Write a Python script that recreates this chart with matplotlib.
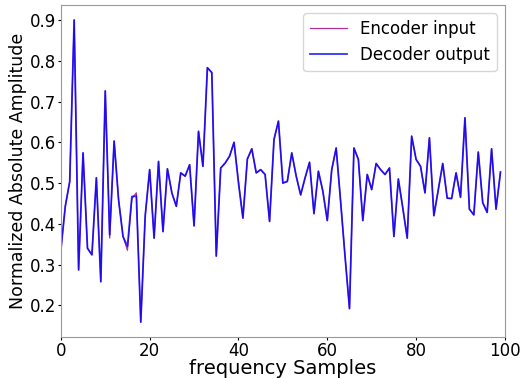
import numpy as np
import matplotlib.pyplot as plt

# decoder output values (100 frequency samples)
decoder_output = [
    0.335, 0.443, 0.504, 0.900, 0.287, 0.574, 0.340, 0.324, 0.513, 0.258,
    0.726, 0.373, 0.603, 0.459, 0.369, 0.345, 0.467, 0.468, 0.159, 0.420,
    0.533, 0.365, 0.553, 0.381, 0.535, 0.476, 0.443, 0.525, 0.517, 0.545,
    0.395, 0.627, 0.541, 0.783, 0.771, 0.321, 0.537, 0.549, 0.566, 0.600,
    0.500, 0.414, 0.559, 0.584, 0.525, 0.533, 0.521, 0.406, 0.607, 0.652,
    0.500, 0.504, 0.574, 0.517, 0.471, 0.513, 0.551, 0.425, 0.529, 0.480,
    0.408, 0.533, 0.586, 0.455, 0.320, 0.192, 0.586, 0.558, 0.408, 0.521,
    0.484, 0.548, 0.533, 0.521, 0.537, 0.369, 0.510, 0.439, 0.365, 0.615,
    0.558, 0.541, 0.476, 0.611, 0.420, 0.484, 0.548, 0.463, 0.462, 0.525,
    0.465, 0.660, 0.436, 0.422, 0.576, 0.452, 0.428, 0.584, 0.436, 0.527,
]

# encoder input is almost the same, small offsets where red shows through
encoder_input = list(decoder_output)
encoder_input[11] = 0.365
encoder_input[15] = 0.335
encoder_input[17] = 0.476
encoder_input[16] = 0.462
encoder_input[40] = 0.505

samples = np.arange(len(decoder_output))

fig = plt.figure(figsize=(5.2, 3.78), dpi=100)
ax = fig.add_axes([0.117, 0.108, 0.854, 0.879])

ax.plot(samples, encoder_input, color='#b0309a', linewidth=0.9, label='Encoder input')
ax.plot(samples, decoder_output, color='blue', linewidth=1.3, alpha=0.8, label='Decoder output')

ax.set_xlim(0, 100)
ax.set_xlabel('frequency Samples', fontsize=14, labelpad=-1)
ax.set_ylabel('Normalized Absolute Amplitude', fontsize=12.5, labelpad=2)
ax.tick_params(labelsize=12, length=2, pad=1.5)
for s in ax.spines.values():
    s.set_color('#999999')
ax.legend(loc='upper right', fontsize=12, handlelength=2.2)

fig.savefig('out.png', dpi=100)
